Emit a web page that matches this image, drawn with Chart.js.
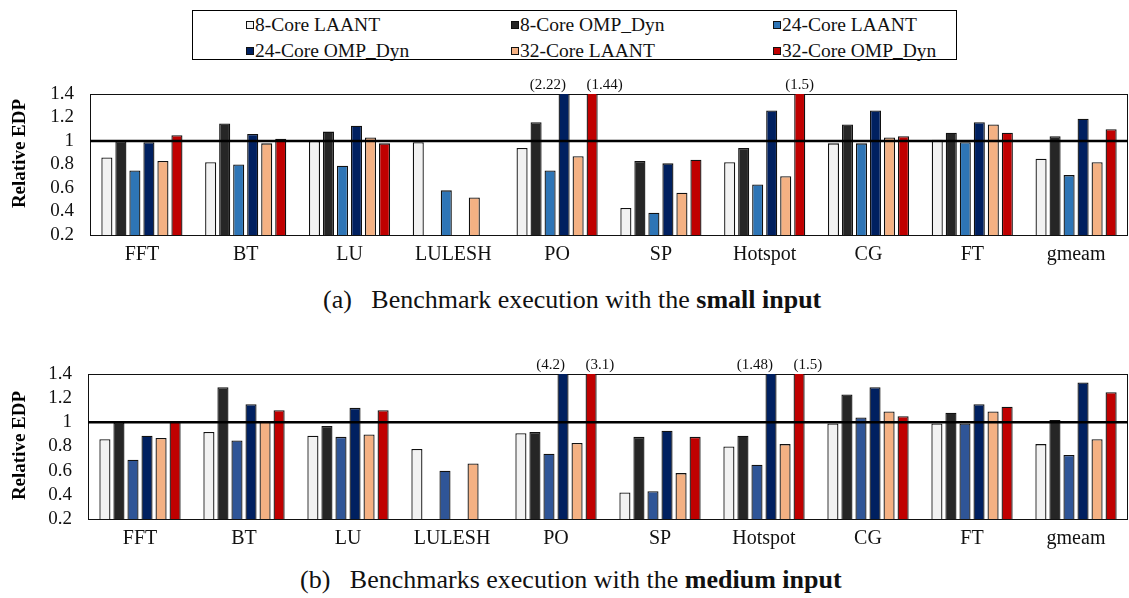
<!DOCTYPE html>
<html>
<head>
<meta charset="utf-8">
<script src="https://cdn.jsdelivr.net/npm/chart.js@4"></script>
<style>
  body { margin: 0; background: #fff; width: 1129px; height: 598px; position: relative; overflow: hidden; font-family: "Liberation Serif", "Times New Roman", serif; color: #111; }
  #legend { position: absolute; left: 192px; top: 10px; width: 765px; height: 50px; border: 1px solid #000; box-sizing: border-box; }
  .item { position: absolute; height: 22px; line-height: 22px; font-size: 19.5px; white-space: nowrap; display: flex; align-items: center; }
  .item i { display: inline-block; width: 6px; height: 6px; border: 1px solid #111; margin-right: 1px; }
  .wrap { position: absolute; left: 0; width: 1129px; height: 215px; }
  .caption { position: absolute; font-size: 26px; line-height: 28px; white-space: nowrap; }
</style>
</head>
<body>
<div id="legend"></div>
<div class="wrap" style="top:60px"><canvas id="small"></canvas></div>
<div class="caption" style="left:323px; top:286px">(a)&nbsp;&nbsp; Benchmark execution with the <b>small input</b></div>
<div class="wrap" style="top:340px"><canvas id="medium"></canvas></div>
<div class="caption" style="left:300px; top:566px">(b)&nbsp;&nbsp; Benchmarks execution with the <b>medium input</b></div>

<script>
const benchmarks = ['FFT', 'BT', 'LU', 'LULESH', 'PO', 'SP', 'Hotspot', 'CG', 'FT', 'gmeam'];
const seriesNames = ['8-Core LAANT', '8-Core OMP_Dyn', '24-Core LAANT', '24-Core OMP_Dyn', '32-Core LAANT', '32-Core OMP_Dyn'];
const seriesColors = ['#f2f2f2', '#262626', '#2e75b6', '#002060', '#f4b183', '#c00000'];
const mediumColors = ['#f2f2f2', '#262626', '#2f5597', '#002060', '#f4b183', '#c00000'];

const yTicks = [0.2, 0.4, 0.6, 0.8, 1, 1.2, 1.4];
const refLevel = 1;

// small input, relative EDP
const small8Laant  = [0.86, 0.82, 1.00, 0.99, 0.94, 0.43, 0.82, 0.98, 1.01, 0.85];
const small8Omp    = [1.00, 1.15, 1.08, null, 1.16, 0.83, 0.94, 1.14, 1.07, 1.04];
const small24Laant = [0.75, 0.80, 0.79, 0.58, 0.75, 0.39, 0.63, 0.98, 0.99, 0.71];
const small24Omp   = [0.99, 1.06, 1.13, null, 2.22, 0.81, 1.26, 1.26, 1.16, 1.19];
const small32Laant = [0.83, 0.98, 1.03, 0.52, 0.87, 0.56, 0.70, 1.03, 1.14, 0.82];
const small32Omp   = [1.05, 1.02, 0.98, null, 1.44, 0.84, 1.5, 1.04, 1.07, 1.10];

// medium input, relative EDP
const medium8Laant  = [0.86, 0.92, 0.89, 0.78, 0.91, 0.42, 0.80, 0.99, 0.99, 0.82];
const medium8Omp    = [1.00, 1.29, 0.97, null, 0.92, 0.88, 0.89, 1.23, 1.08, 1.02];
const medium24Laant = [0.69, 0.85, 0.88, 0.60, 0.74, 0.43, 0.65, 1.04, 0.99, 0.73];
const medium24Omp   = [0.89, 1.15, 1.12, null, 4.2, 0.93, 1.48, 1.29, 1.15, 1.33];
const medium32Laant = [0.87, 1.01, 0.90, 0.66, 0.83, 0.58, 0.82, 1.09, 1.09, 0.86];
const medium32Omp   = [1.01, 1.10, 1.10, null, 3.1, 0.88, 1.5, 1.05, 1.13, 1.25];

const smallSeries = [small8Laant, small8Omp, small24Laant, small24Omp, small32Laant, small32Omp];
const mediumSeries = [medium8Laant, medium8Omp, medium24Laant, medium24Omp, medium32Laant, medium32Omp];

// legend box above both charts
const legendCols = [245, 510, 772];
const legendRows = [24, 49.5];
const legendEl = document.getElementById('legend');
seriesNames.forEach((name, i) => {
  const item = document.createElement('div');
  item.className = 'item';
  item.style.left = (legendCols[i % 3] - 192) + 'px';
  item.style.top = (legendRows[Math.floor(i / 3)] - 10 - 11) + 'px';
  item.innerHTML = '<i style="background:' + seriesColors[i] + '"></i>' + name;
  legendEl.appendChild(item);
});

// plot frame + the 1.0 reference line
const frame = {
  id: 'frame',
  beforeDatasetsDraw(chart) {
    const { ctx, chartArea: a } = chart;
    ctx.save();
    ctx.strokeStyle = '#111';
    ctx.lineWidth = 1;
    ctx.strokeRect(a.left + 0.5, a.top + 0.5, a.right - a.left - 1, a.bottom - a.top);
    ctx.restore();
  },
  afterDatasetsDraw(chart) {
    const { ctx, chartArea: a, scales } = chart;
    const y = scales.y.getPixelForValue(refLevel);
    ctx.save();
    ctx.strokeStyle = '#000';
    ctx.lineWidth = 2.5;
    ctx.beginPath();
    ctx.moveTo(a.left, y);
    ctx.lineTo(a.right, y);
    ctx.stroke();
    ctx.restore();
  }
};

// values of bars cut off at the top of the plot
const overflowLabels = {
  id: 'overflowLabels',
  afterDatasetsDraw(chart) {
    const { ctx, chartArea, scales } = chart;
    const max = scales.y.max;
    ctx.save();
    ctx.font = '15px "Liberation Serif"';
    ctx.fillStyle = '#111';
    ctx.textBaseline = 'alphabetic';
    benchmarks.forEach((_, i) => {
      const over = [];
      chart.data.datasets.forEach((ds, d) => {
        const v = ds.data[i];
        if (v != null && v > max) over.push({ v, bar: chart.getDatasetMeta(d).data[i] });
      });
      over.forEach((o, k) => {
        let x = o.bar.x, align = 'center';
        if (over.length > 1) {
          if (k === 0) { align = 'right'; x = o.bar.x + 2; }
          else { align = 'left'; x = o.bar.x - o.bar.width / 2; }
        }
        ctx.textAlign = align;
        ctx.fillText('(' + o.v + ')', x, chartArea.top - 5);
      });
    });
    ctx.restore();
  }
};

// rotated y axis title, nudged along the axis per chart
const yTitle = {
  id: 'yTitle',
  afterDraw(chart, args, opts) {
    const { ctx, chartArea: a } = chart;
    ctx.save();
    ctx.translate(opts.x, (a.top + a.bottom) / 2 + opts.shift);
    ctx.rotate(-Math.PI / 2);
    ctx.font = 'bold 19px "Liberation Serif"';
    ctx.fillStyle = '#000';
    ctx.textAlign = 'center';
    ctx.textBaseline = 'middle';
    ctx.fillText(opts.text, 0, 0);
    ctx.restore();
  }
};

function makeChart(id, series, colors, axisWidth, axisHeight, padTop, titleShift) {
  const ctx = document.getElementById(id).getContext('2d');
  return new Chart(ctx, {
    type: 'bar',
    data: {
      labels: benchmarks,
      datasets: series.map((data, i) => ({
        label: seriesNames[i],
        data: data,
        backgroundColor: colors[i],
        borderColor: '#111',
        borderWidth: 1.3,
        borderSkipped: false,
        categoryPercentage: 0.81,
        barPercentage: 0.79,
        clip: 0,
      })),
    },
    options: {
      responsive: true,
      maintainAspectRatio: false,
      animation: false,
      layout: { padding: { top: padTop, right: 1, left: 0, bottom: 0 } },
      plugins: {
        legend: { display: false },
        tooltip: { enabled: false },
        yTitle: { text: 'Relative EDP', x: 20, shift: titleShift },
      },
      scales: {
        x: {
          grid: { display: false, drawTicks: false },
          border: { display: false },
          ticks: {
            color: '#111',
            padding: 8,
            font: { family: 'Liberation Serif', size: 20 },
          },
          afterFit: (scale) => { scale.height = axisHeight; },
        },
        y: {
          min: yTicks[0],
          max: yTicks[yTicks.length - 1],
          grid: { display: false, drawTicks: false },
          border: { display: false },
          afterBuildTicks: (scale) => { scale.ticks = yTicks.map(v => ({ value: v })); },
          ticks: {
            autoSkip: false,
            color: '#111',
            padding: 16,
            font: { family: 'Liberation Serif', size: 19 },
            callback: (v) => String(+v.toFixed(1)),
          },
          afterFit: (scale) => { scale.width = axisWidth; },
        },
      },
    },
    plugins: [frame, overflowLabels, yTitle],
  });
}

makeChart('small', smallSeries, seriesColors, 90, 40, 34, -11);
makeChart('medium', mediumSeries, mediumColors, 88, 36, 34, -1);
</script>
</body>
</html>
